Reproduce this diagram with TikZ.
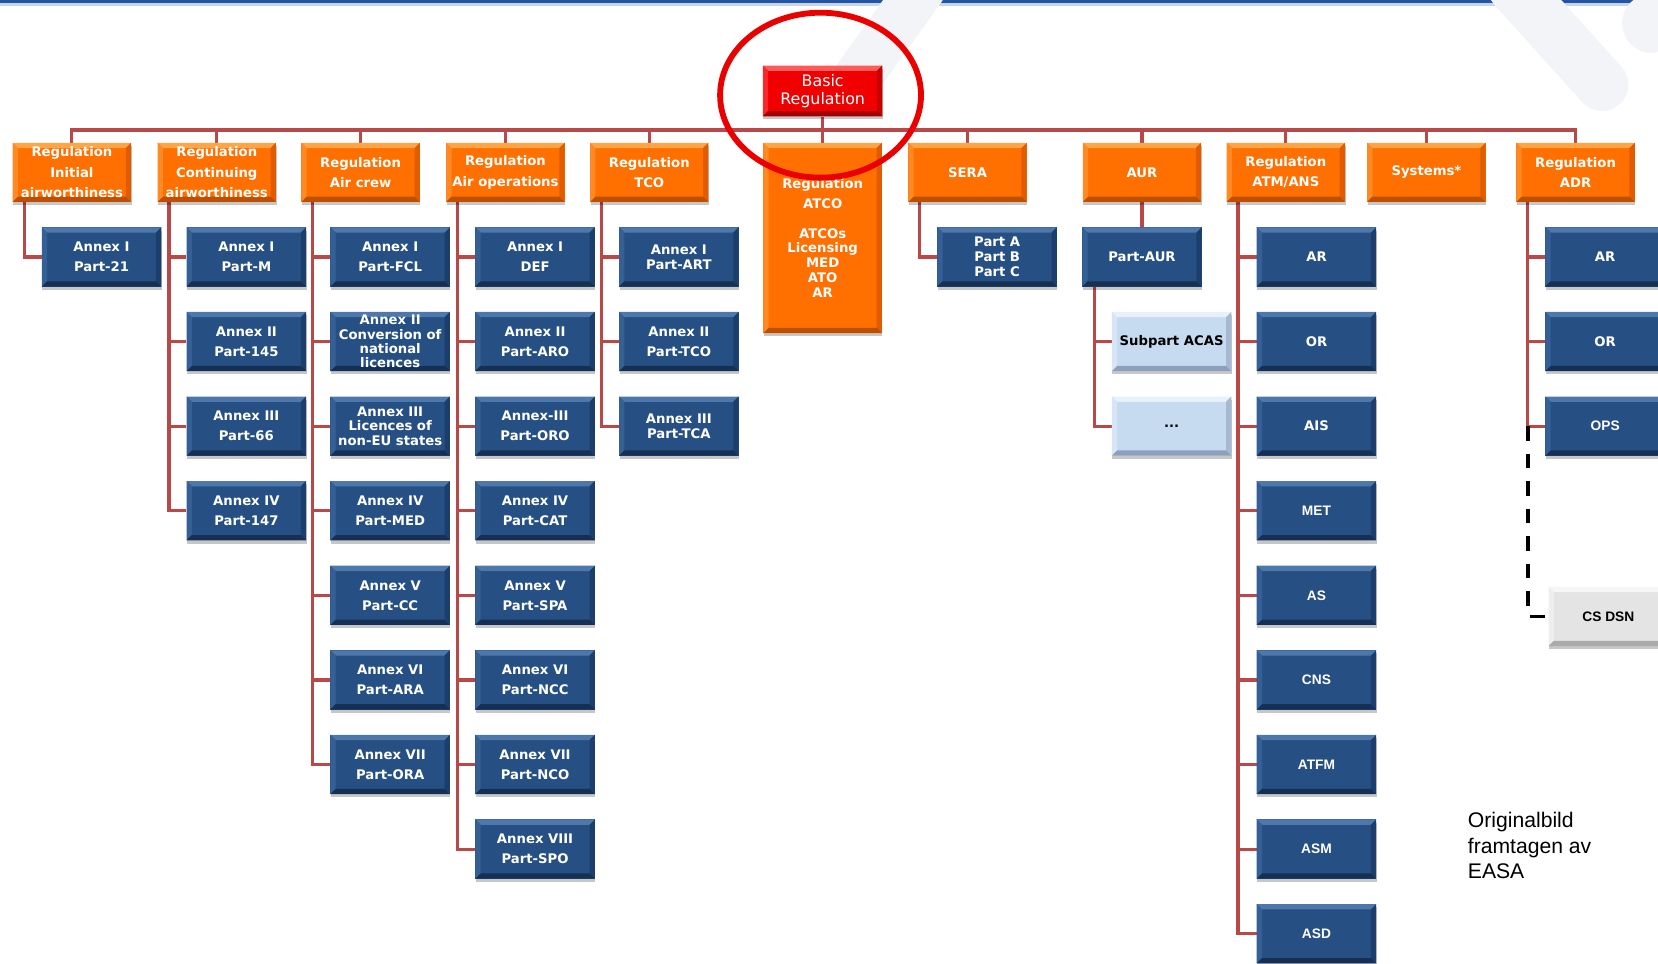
\documentclass[tikz,border=0pt]{standalone}
\usepackage{fontspec}
\setmainfont{DejaVu Sans}
\newfontfamily\arialfont{Liberation Sans}
\usetikzlibrary{shadows}

\definecolor{busred}{RGB}{185,72,72}
\definecolor{topblue}{RGB}{35,85,165}
\definecolor{boxblue}{RGB}{38,80,132}
\definecolor{blueT}{RGB}{78,120,172}
\definecolor{blueL}{RGB}{52,96,150}
\definecolor{blueR}{RGB}{28,62,108}
\definecolor{blueB}{RGB}{22,48,85}
\definecolor{regorange}{RGB}{255,112,0}
\definecolor{orT}{RGB}{255,165,70}
\definecolor{orL}{RGB}{255,138,35}
\definecolor{orR}{RGB}{225,92,0}
\definecolor{orB}{RGB}{190,78,0}
\definecolor{basicred}{RGB}{240,0,0}
\definecolor{rdT}{RGB}{255,90,90}
\definecolor{rdL}{RGB}{250,40,40}
\definecolor{rdR}{RGB}{200,0,0}
\definecolor{rdB}{RGB}{165,0,0}
\definecolor{paleblue}{RGB}{198,218,240}
\definecolor{pbT}{RGB}{232,241,251}
\definecolor{pbL}{RGB}{215,230,246}
\definecolor{pbR}{RGB}{165,185,210}
\definecolor{pbB}{RGB}{140,160,190}
\definecolor{palegrey}{RGB}{228,228,228}
\definecolor{pgT}{RGB}{246,246,246}
\definecolor{pgL}{RGB}{238,238,238}
\definecolor{pgR}{RGB}{195,195,195}
\definecolor{pgB}{RGB}{170,170,170}
\definecolor{ringred}{RGB}{235,0,0}
\definecolor{watermark}{RGB}{243,244,247}

\pgfdeclarelayer{wires}
\pgfsetlayers{wires,main}

% bevelled edges of a tile: top, left, right, bottom
\newcommand\bevelfill[4]{%
  \fill[#1] (path picture bounding box.north west) -- (path picture bounding box.north east)
    -- ([shift={(-5pt,-5pt)}]path picture bounding box.north east)
    -- ([shift={(5pt,-5pt)}]path picture bounding box.north west) -- cycle;
  \fill[#2] (path picture bounding box.north west)
    -- ([shift={(5pt,-5pt)}]path picture bounding box.north west)
    -- ([shift={(5pt,5pt)}]path picture bounding box.south west)
    -- (path picture bounding box.south west) -- cycle;
  \fill[#3] (path picture bounding box.north east)
    -- ([shift={(-5pt,-5pt)}]path picture bounding box.north east)
    -- ([shift={(-5pt,5pt)}]path picture bounding box.south east)
    -- (path picture bounding box.south east) -- cycle;
  \fill[#4] (path picture bounding box.south west)
    -- ([shift={(5pt,5pt)}]path picture bounding box.south west)
    -- ([shift={(-5pt,5pt)}]path picture bounding box.south east)
    -- (path picture bounding box.south east) -- cycle;
}

\tikzset{
  tile/.style={rectangle, minimum width=113pt, minimum height=56pt, inner sep=0pt,
    align=center, text=white, font=\bfseries\fontsize{12.5}{19}\selectfont,
    drop shadow={shadow xshift=0.5pt, shadow yshift=-3pt, opacity=0.22, fill=black}},
  tight/.style={font=\bfseries\fontsize{12.5}{14}\selectfont},
  arialbold/.style={font=\arialfont\bfseries\fontsize{13}{15}\selectfont},
  annex/.style={tile, fill=boxblue, path picture={\bevelfill{blueT}{blueL}{blueR}{blueB}}},
  reg/.style={tile, minimum width=112pt, fill=regorange, path picture={\bevelfill{orT}{orL}{orR}{orB}}},
  basic/.style={tile, minimum height=48pt, fill=basicred, font=\fontsize{15}{17}\selectfont,
    path picture={\bevelfill{rdT}{rdL}{rdR}{rdB}}},
  sub/.style={tile, fill=paleblue, text=black, path picture={\bevelfill{pbT}{pbL}{pbR}{pbB}}},
  spec/.style={tile, fill=palegrey, text=black, arialbold, path picture={\bevelfill{pgT}{pgL}{pgR}{pgB}}},
  bus/.style={draw=busred, line width=3pt},
  link/.style={draw=black, line width=3.5pt, dash pattern=on 14pt off 12pt},
}

\begin{document}
\begin{tikzpicture}[x=1pt, y=-1pt]
\useasboundingbox (0,0) rectangle (1568,911);
\clip (0,0) rectangle (1568,911);

% page header rule and faint background marks over it
\fill[topblue!25] (0,2.5) rectangle (1568,6);
\fill[topblue] (0,0) rectangle (1568,2.8);
\draw[watermark, line width=46pt, line cap=round] (872,-12) -- (812,72);
\draw[watermark, line width=50pt, line cap=round] (1432,-12) -- (1515,80);
\fill[watermark] (1562,22) circle [radius=28pt];

% top of the tree
\node[basic] (basic) at (778,86) {Basic\\Regulation};
\coordinate (busy) at (0,123);

\node[reg] (r1) at (68,163) {Regulation\\[1pt]\fontsize{12.5}{14}\selectfont Initial\\airworthiness};
\node[reg] (r2) at (205,163) {Regulation\\[1pt]\fontsize{12.5}{14}\selectfont Continuing\\airworthiness};
\node[reg] (r3) at (341,163) {Regulation\\Air crew};
\node[reg] (r4) at (478,163) {Regulation\\Air operations};
\node[reg] (r5) at (614,163) {Regulation\\TCO};
\node[reg, minimum height=180pt, font=\bfseries\fontsize{12.5}{14}\selectfont] (r6) at (778,225)
  {Regulation\\[5pt]ATCO\\[14pt]ATCOs\\Licensing\\MED\\ATO\\AR};
\node[reg] (r7) at (915,163) {SERA};
\node[reg] (r8) at (1080,163) {AUR};
\node[reg] (r9) at (1216,163) {Regulation\\ATM/ANS};
\node[reg] (r10) at (1349,163) {Systems*};
\node[reg] (r11) at (1490,163) {Regulation\\ADR};

% initial airworthiness
\node[annex] (c1-1) at (96,243) {Annex I\\Part-21};

% continuing airworthiness
\foreach \t [count=\i] in {{Annex I\\Part-M},{Annex II\\Part-145},{Annex III\\Part-66},{Annex IV\\Part-147}}
  \node[annex] (c2-\i) at (233,{163+80*\i}) {\t};

% air crew
\node[annex] (c3-1) at (369,243) {Annex I\\Part-FCL};
\node[annex, font=\bfseries\fontsize{12.5}{13.5}\selectfont] (c3-2) at (369,323) {Annex II\\Conversion of\\national\\licences};
\node[annex, font=\bfseries\fontsize{12.5}{13.5}\selectfont] (c3-3) at (369,403) {Annex III\\Licences of\\non-EU states};
\node[annex] (c3-4) at (369,483) {Annex IV\\Part-MED};
\node[annex] (c3-5) at (369,563) {Annex V\\Part-CC};
\node[annex] (c3-6) at (369,643) {Annex VI\\Part-ARA};
\node[annex] (c3-7) at (369,723) {Annex VII\\Part-ORA};

% air operations
\foreach \t [count=\i] in {{Annex I\\DEF},{Annex II\\Part-ARO},{Annex-III\\Part-ORO},{Annex IV\\Part-CAT},
    {Annex V\\Part-SPA},{Annex VI\\Part-NCC},{Annex VII\\Part-NCO},{Annex VIII\\Part-SPO}}
  \node[annex] (c4-\i) at (506,{163+80*\i}) {\t};

% TCO
\node[annex, tight] (c5-1) at (642,243) {Annex I\\Part-ART};
\node[annex] (c5-2) at (642,323) {Annex II\\Part-TCO};
\node[annex, tight] (c5-3) at (642,403) {Annex III\\Part-TCA};

% SERA
\node[annex, tight] (c7-1) at (943,243) {Part A\\Part B\\Part C};

% AUR
\node[annex] (c8-1) at (1080,243) {Part-AUR};
\node[sub] (s8-1) at (1108,323) {Subpart ACAS};
\node[sub] (s8-2) at (1108,403) {...};

% ATM/ANS
\node[annex] (c9-1) at (1245,243) {AR};
\node[annex] (c9-2) at (1245,323) {OR};
\node[annex] (c9-3) at (1245,403) {AIS};
\foreach \t [count=\i from 4] in {MET,AS,CNS,ATFM,ASM,ASD}
  \node[annex, arialbold] (c9-\i) at (1245,{163+80*\i}) {\t};

% ADR
\node[annex] (c11-1) at (1518,243) {AR};
\node[annex] (c11-2) at (1518,323) {OR};
\node[annex, arialbold] (c11-3) at (1518,403) {OPS};
\node[spec] (cs) at (1521,583) {CS DSN};

% credit line
\node[anchor=north west, align=left, inner sep=0pt, font=\arialfont\fontsize{20}{24}\selectfont]
  (credit) at (1388,768) {Originalbild\\framtagen av\\EASA};

% connectors
\begin{pgfonlayer}{wires}
  \draw[bus] (basic.south) -- (r6.north);
  \draw[bus] (r1.north) -- (r1.north |- busy) -| (r11.north);
  \foreach \k in {2,3,4,5,7,8,9,10}
    \draw[bus] (r\k.north) -- (r\k.north |- busy);

  \foreach \k/\n in {1/1,2/4,3/7,4/8,5/3,7/1,9/9,11/3} {
    \coordinate (t\k) at ([xshift=11pt]r\k.south west);
    \draw[bus] (t\k) |- (c\k-\n.west);
    \foreach \i in {1,...,\n}
      \draw[bus] (c\k-\i.west) -- (c\k-\i.west -| t\k);
  }

  \draw[bus] (r8.south) -- (c8-1.north);
  \coordinate (t8) at ([xshift=12pt]c8-1.south west);
  \draw[bus] (t8) |- (s8-2.west);
  \draw[bus] (s8-1.west) -- (s8-1.west -| t8);

  \draw[link] (c11-3.west -| t11) |- (cs.west);
\end{pgfonlayer}

% highlight ring round the basic regulation
\draw[ringred, line width=5.5pt] (776,90) ellipse [x radius=95pt, y radius=78pt];
\end{tikzpicture}
\end{document}
